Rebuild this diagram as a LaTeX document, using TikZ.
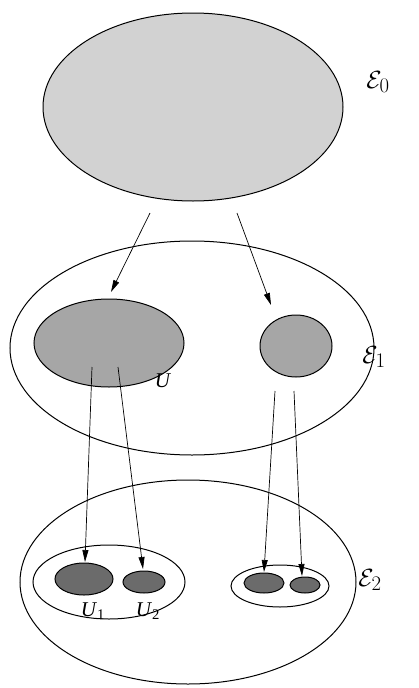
\documentclass[tikz,border=0pt]{standalone}
\usepackage{fontspec}
\setmainfont{Liberation Serif}
\usetikzlibrary{arrows.meta}
\begin{document}
\begin{tikzpicture}[x=1pt,y=-1pt,
  outline/.style={draw=black,line width=1pt},
  light/.style={outline,fill=gray!35},
  mid/.style={outline,fill=black!35},
  dark/.style={outline,fill=black!58},
  arr/.style={-{Triangle[length=12pt,width=6pt]},line width=0.7pt},
  lbl/.style={font=\fontsize{21}{24}\selectfont,inner sep=0pt},
  elbl/.style={font=\Huge,inner sep=0pt}]
\useasboundingbox (0,0) rectangle (418,688);
% top
\draw[light] (193,107) ellipse [x radius=150, y radius=94];
\coordinate (t1) at (150,213);
\coordinate (t2) at (237,213);
% middle
\draw[outline] (192,348) ellipse [x radius=182, y radius=107];
\draw[mid] (109,343) ellipse [x radius=75, y radius=44];
\draw[mid] (296,346) ellipse [x radius=36, y radius=31];
\node[lbl] (U) at (163,381) {\textit{U}};
% bottom
\draw[outline] (188,582) ellipse [x radius=168, y radius=102];
\draw[outline] (109,582) ellipse [x radius=76, y radius=37];
\draw[dark] (84,579) ellipse [x radius=29, y radius=16];
\draw[dark] (144,582) ellipse [x radius=21, y radius=11];
\draw[outline] (280,586) ellipse [x radius=49, y radius=21];
\draw[dark] (264,583) ellipse [x radius=20, y radius=10];
\draw[dark] (305,585) ellipse [x radius=15, y radius=8];
\node[lbl] (U1) at (93,611) {\textit{U}\textsubscript{1}};
\node[lbl] (U2) at (148,611) {\textit{U}\textsubscript{2}};
% labels
\node[elbl] (E0) at (378,82) {$\mathcal{E}_0$};
\node[elbl] (E1) at (374,357) {$\mathcal{E}_1$};
\node[elbl] (E2) at (370,580) {$\mathcal{E}_2$};
% arrows
\coordinate (a1) at (111,292);
\coordinate (a2) at (271,305);
\draw[arr] (t1) -- (a1);
\draw[arr] (t2) -- (a2);
\coordinate (m1) at (92,367);
\coordinate (m2) at (118,367);
\coordinate (m3) at (275,391);
\coordinate (m4) at (294,391);
\coordinate (b1) at (85,562);
\coordinate (b2) at (143,569);
\coordinate (b3) at (264,572);
\coordinate (b4) at (302,576);
\draw[arr] (m1) -- (b1);
\draw[arr] (m2) -- (b2);
\draw[arr] (m3) -- (b3);
\draw[arr] (m4) -- (b4);
\end{tikzpicture}
\end{document}
